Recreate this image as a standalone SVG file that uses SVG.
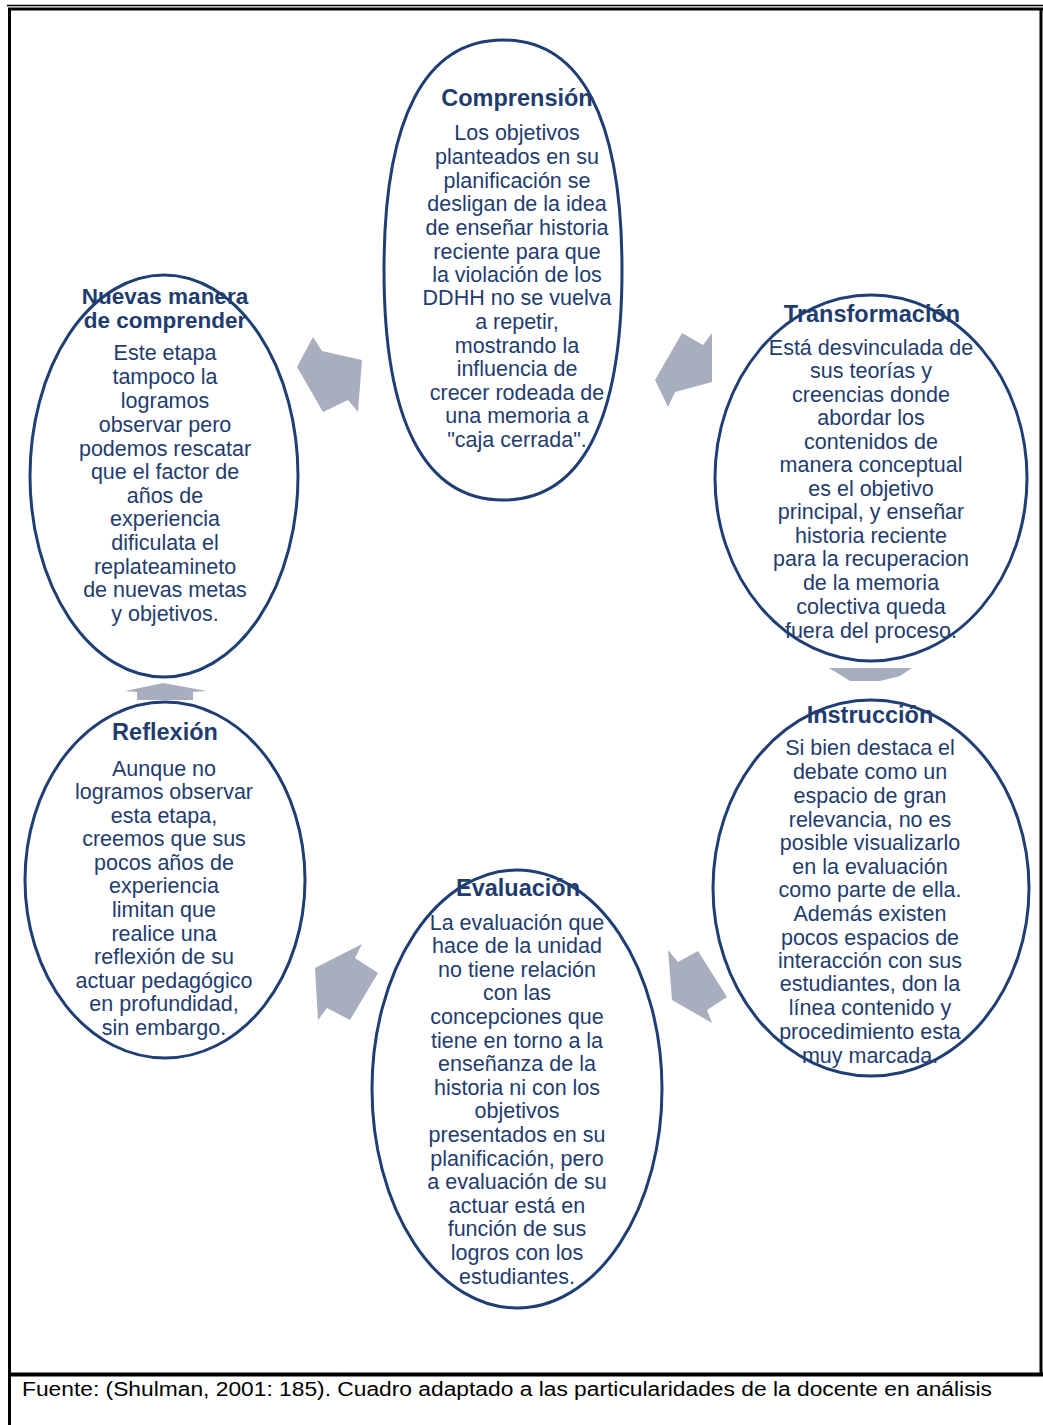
<svg xmlns="http://www.w3.org/2000/svg" width="1043" height="1425" viewBox="0 0 1043 1425">
<style>
.e{fill:#fff;stroke:#1f3f74;stroke-width:3}
.t{font-family:"Liberation Sans",Arial,sans-serif;font-size:23.5px;font-weight:bold;fill:#1f3c6e;text-anchor:middle}
.b{font-family:"Liberation Sans",Arial,sans-serif;font-size:21.5px;fill:#1f3c6e;text-anchor:middle}
.a{fill:#a9aebf}
.f{font-family:"Liberation Sans",Arial,sans-serif;font-size:20px;fill:#000}
</style>
<rect width="1043" height="1425" fill="#fff"/>
<g id="frame" stroke="#000" fill="none">
<line x1="7" y1="5.5" x2="1043" y2="5.5" stroke-width="1.5"/>
<line x1="8" y1="9" x2="1043" y2="9" stroke-width="3"/>
<line x1="9.5" y1="8" x2="9.5" y2="1425" stroke-width="3"/>
<line x1="1041" y1="8" x2="1041" y2="1376" stroke-width="3"/>
<line x1="8" y1="1374.5" x2="1043" y2="1374.5" stroke-width="4"/>
</g>
<g id="connectors">
<polygon class="a" points="313,337 322,351 362,360 358,412 348,400 323,412 297,367"/>
<polygon class="a" points="682,333 703,345 712,333 712,382 675,392 668,407 655,380"/>
<polygon class="a" points="829,668 912,668 900,676 880,681 850,681 842,676"/>
<polygon class="a" points="668,950 678,962 698,951 727,997 707,1010 712,1023 672,1000"/>
<polygon class="a" points="362,944 355,958 378,973 350,1020 327,1008 318,1020 315,968"/>
<polygon class="a" points="125,691 163,683 207,691 193,692 193,700 137,700 137,692"/>
</g>
<g id="comprension">
<path class="e" d="M503,40 C581,40 622,118 622,270 C622,422 581,500 503,500 C425,500 384,422 384,270 C384,118 425,40 503,40 Z"/>
<text class="t" x="517" y="106">Comprensión</text>
<text class="b"><tspan x="517" y="140">Los objetivos</tspan><tspan x="517" y="164">planteados en su</tspan><tspan x="517" y="188">planificación se</tspan><tspan x="517" y="211">desligan de la idea</tspan><tspan x="517" y="235">de enseñar historia</tspan><tspan x="517" y="259">reciente para que</tspan><tspan x="517" y="282">la violación de los</tspan><tspan x="517" y="305">DDHH no se vuelva</tspan><tspan x="517" y="329">a  repetir,</tspan><tspan x="517" y="353">mostrando la</tspan><tspan x="517" y="376">influencia de</tspan><tspan x="517" y="400">crecer rodeada de</tspan><tspan x="517" y="423">una memoria a</tspan><tspan x="517" y="447">"caja cerrada".</tspan></text>
</g>
<g id="transformacion">
<ellipse class="e" cx="871" cy="478" rx="156" ry="183"/>
<text class="t" x="872" y="322">Transformación</text>
<text class="b"><tspan x="871" y="355">Está desvinculada de</tspan><tspan x="871" y="378">sus teorías y</tspan><tspan x="871" y="402">creencias donde</tspan><tspan x="871" y="425">abordar los</tspan><tspan x="871" y="449">contenidos de</tspan><tspan x="871" y="472">manera conceptual</tspan><tspan x="871" y="496">es el objetivo</tspan><tspan x="871" y="519">principal, y enseñar</tspan><tspan x="871" y="543">historia reciente</tspan><tspan x="871" y="566">para la recuperacion</tspan><tspan x="871" y="590">de la memoria</tspan><tspan x="871" y="614">colectiva queda</tspan><tspan x="871" y="638">fuera del proceso.</tspan></text>
</g>
<g id="instruccion">
<ellipse class="e" cx="871" cy="888" rx="158" ry="188"/>
<text class="t" x="870" y="723">Instrucción</text>
<text class="b"><tspan x="870" y="755">Si bien destaca el</tspan><tspan x="870" y="779">debate como un</tspan><tspan x="870" y="803">espacio de gran</tspan><tspan x="870" y="827">relevancia, no es</tspan><tspan x="870" y="850">posible visualizarlo</tspan><tspan x="870" y="874">en la evaluación</tspan><tspan x="870" y="897">como parte de ella.</tspan><tspan x="870" y="921">Además existen</tspan><tspan x="870" y="945">pocos espacios de</tspan><tspan x="870" y="968">interacción con sus</tspan><tspan x="870" y="991">estudiantes, don la</tspan><tspan x="870" y="1015">línea contenido y</tspan><tspan x="870" y="1039">procedimiento esta</tspan><tspan x="870" y="1063">muy marcada.</tspan></text>
</g>
<g id="evaluacion">
<ellipse class="e" cx="517" cy="1089" rx="145" ry="219"/>
<text class="t" x="518" y="896">Evaluación</text>
<text class="b"><tspan x="517" y="930">La evaluación que</tspan><tspan x="517" y="953">hace de la unidad</tspan><tspan x="517" y="977">no tiene relación</tspan><tspan x="517" y="1000">con las</tspan><tspan x="517" y="1024">concepciones que</tspan><tspan x="517" y="1048">tiene en torno a la</tspan><tspan x="517" y="1071">enseñanza de la</tspan><tspan x="517" y="1095">historia ni con los</tspan><tspan x="517" y="1118">objetivos</tspan><tspan x="517" y="1142">presentados en su</tspan><tspan x="517" y="1166">planificación, pero</tspan><tspan x="517" y="1189">a evaluación  de su</tspan><tspan x="517" y="1213">actuar está en</tspan><tspan x="517" y="1236">función de sus</tspan><tspan x="517" y="1260">logros con los</tspan><tspan x="517" y="1284">estudiantes.</tspan></text>
</g>
<g id="reflexion">
<ellipse class="e" cx="165" cy="880" rx="140" ry="178"/>
<text class="t" x="165" y="740">Reflexión</text>
<text class="b"><tspan x="164" y="776">Aunque no</tspan><tspan x="164" y="799">logramos observar</tspan><tspan x="164" y="823">esta etapa,</tspan><tspan x="164" y="846">creemos que sus</tspan><tspan x="164" y="870">pocos años de</tspan><tspan x="164" y="893">experiencia</tspan><tspan x="164" y="917">limitan que</tspan><tspan x="164" y="941">realice una</tspan><tspan x="164" y="964">reflexión de su</tspan><tspan x="164" y="988">actuar pedagógico</tspan><tspan x="164" y="1011">en profundidad,</tspan><tspan x="164" y="1035">sin embargo.</tspan></text>
</g>
<g id="nuevas">
<ellipse class="e" cx="164" cy="476" rx="134" ry="201"/>
<text class="t" style="font-size:22.5px"><tspan x="165" y="304">Nuevas manera</tspan><tspan x="165" y="328">de comprender</tspan></text>
<text class="b"><tspan x="165" y="360">Este etapa</tspan><tspan x="165" y="384">tampoco la</tspan><tspan x="165" y="408">logramos</tspan><tspan x="165" y="432">observar pero</tspan><tspan x="165" y="456">podemos rescatar</tspan><tspan x="165" y="479">que el factor de</tspan><tspan x="165" y="503">años de</tspan><tspan x="165" y="526">experiencia</tspan><tspan x="165" y="550">dificulata el</tspan><tspan x="165" y="574">replateamineto</tspan><tspan x="165" y="597">de nuevas metas</tspan><tspan x="165" y="621">y objetivos.</tspan></text>
</g>
<text class="f" x="22" y="1396" textLength="970" lengthAdjust="spacingAndGlyphs">Fuente: (Shulman, 2001: 185). Cuadro adaptado a las particularidades de la docente en análisis</text>
</svg>
